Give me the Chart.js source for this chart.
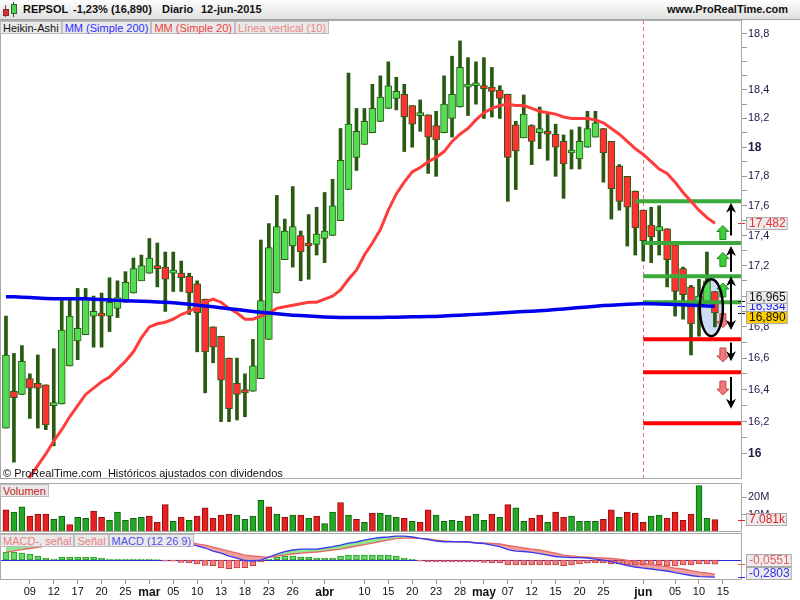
<!DOCTYPE html>
<html lang="es">
<head>
<meta charset="utf-8">
<title>REPSOL</title>
<script src="https://cdn.jsdelivr.net/npm/chart.js@4.4.1/dist/chart.umd.min.js"></script>
<style>
  body { margin: 0; background: #fff; font-family: "Liberation Sans", Arial, sans-serif; }
  #page { position: relative; width: 800px; height: 600px; overflow: hidden; }
  canvas { position: absolute; left: 0; }
  #head { position: absolute; left: 0; top: 0; width: 800px; height: 20px; box-sizing: border-box; background: linear-gradient(#fdfdfd, #e0e0e0); border-bottom: 1px solid #a6a6a6; }
  #head span { position: absolute; top: 3px; font-size: 11px; font-weight: bold; color: #111; white-space: nowrap; }
  #head i { position: absolute; display: block; box-sizing: border-box; }
  .legend { position: absolute; left: 0; display: flex; z-index: 2; }
  .legend span { font-size: 11px; line-height: 11px; height: 13px; box-sizing: border-box; padding: 1px 2px 0 2px; background: #e9e9e9; border: 1px solid #bcbcbc; white-space: nowrap; }
  #copy { position: absolute; left: 3px; top: 467px; font-size: 11px; color: #111; z-index: 2; white-space: pre; }
</style>
</head>
<body>
<div id="page">
  <div id="head">
    <i style="left:5px;top:5px;width:1px;height:12px;background:#553"></i>
    <i style="left:3px;top:9px;width:6px;height:7px;background:#e03030;border:1px solid #733"></i>
    <i style="left:13px;top:2px;width:1px;height:15px;background:#353"></i>
    <i style="left:11px;top:4px;width:6px;height:10px;background:#4cd44c;border:1px solid #363"></i>
    <span style="left:23px">REPSOL</span>
    <span style="left:73px">-1,23% (16,890)</span>
    <span style="left:162px">Diario</span>
    <span style="left:201px">12-jun-2015</span>
    <span style="left:667px">www.ProRealTime.com</span>
  </div>
  <canvas id="mainChart" width="800" height="460" style="top:20px"></canvas>
  <canvas id="volChart" width="800" height="51" style="top:481px"></canvas>
  <canvas id="macdChart" width="800" height="67" style="top:533px"></canvas>
  <div class="legend" style="top:21px">
    <span style="color:#111">Heikin-Ashi</span>
    <span style="color:#3030ff">MM (Simple 200)</span>
    <span style="color:#ee4040">MM (Simple 20)</span>
    <span style="color:#ec8484">Línea vertical (10)</span>
  </div>
  <div id="copy">© ProRealTime.com  Históricos ajustados con dividendos</div>
  <div class="legend" style="top:484px"><span style="color:#cc2020">Volumen</span></div>
  <div class="legend" style="top:534px">
    <span style="color:#ee7f7f">MACD-, señal</span>
    <span style="color:#ee7f7f">Señal</span>
    <span style="color:#5050ee">MACD (12 26 9)</span>
  </div>
</div>
<script>
// trading days, 4-feb-2015 .. 12-jun-2015
const days = [
  '04-feb','05-feb','06-feb','09-feb','10-feb','11-feb','12-feb','13-feb','16-feb','17-feb',
  '18-feb','19-feb','20-feb','23-feb','24-feb','25-feb','26-feb','27-feb','02-mar','03-mar',
  '04-mar','05-mar','06-mar','09-mar','10-mar','11-mar','12-mar','13-mar','16-mar','17-mar',
  '18-mar','19-mar','20-mar','23-mar','24-mar','25-mar','26-mar','27-mar','30-mar','31-mar',
  '01-abr','02-abr','07-abr','08-abr','09-abr','10-abr','13-abr','14-abr','15-abr','16-abr',
  '17-abr','20-abr','21-abr','22-abr','23-abr','24-abr','27-abr','28-abr','29-abr','30-abr',
  '04-may','05-may','06-may','07-may','08-may','11-may','12-may','13-may','14-may','15-may',
  '18-may','19-may','20-may','21-may','22-may','25-may','26-may','27-may','28-may','29-may',
  '01-jun','02-jun','03-jun','04-jun','05-jun','08-jun','09-jun','10-jun','11-jun','12-jun'
];

// Heikin-Ashi candles
const open = [
  16.16, 16.39, 16.37, 16.47, 16.44, 16.43, 16.30, 16.31, 16.55, 16.71,
  16.75, 16.87, 16.88, 16.87, 16.92, 16.96, 17.02, 17.10, 17.15, 17.19,
  17.19, 17.15, 17.15, 17.13, 17.08, 16.98, 16.80, 16.74, 16.60, 16.44,
  16.40, 16.39, 16.47, 16.72, 17.02, 17.24, 17.33, 17.40, 17.345, 17.34,
  17.38, 17.40, 17.50, 17.71, 17.93, 18.02, 18.10, 18.18, 18.27, 18.34,
  18.37, 18.29, 18.22, 18.225, 18.15, 18.10, 18.20, 18.28, 18.42, 18.43,
  18.43, 18.42, 18.40, 18.37, 18.155, 18.065, 18.15, 18.10, 18.11, 18.09,
  18.04, 17.96, 17.92, 18.00, 18.07, 18.13, 18.04, 17.87, 17.80, 17.70,
  17.57, 17.47, 17.43, 17.445, 17.34, 17.18, 17.06, 16.94, 16.96, 17.03
];
const high = [
  16.87, 16.63, 16.68, 16.50, 16.62, 16.43, 16.66, 16.98, 16.98, 17.05,
  17.05, 17.00, 17.02, 17.12, 17.10, 17.16, 17.25, 17.27, 17.38, 17.35,
  17.29, 17.29, 17.23, 17.15, 17.10, 16.98, 16.80, 16.74, 16.60, 16.60,
  16.50, 16.72, 17.37, 17.48, 17.67, 17.51, 17.73, 17.43, 17.54, 17.59,
  17.69, 17.78, 18.13, 18.52, 18.27, 18.27, 18.44, 18.50, 18.60, 18.49,
  18.44, 18.29, 18.33, 18.225, 18.25, 18.50, 18.64, 18.75, 18.63, 18.60,
  18.63, 18.56, 18.43, 18.37, 18.18, 18.365, 18.155, 18.28, 18.24, 18.16,
  18.085, 18.12, 18.14, 18.25, 18.25, 18.13, 18.04, 17.88, 17.80, 17.70,
  17.57, 17.59, 17.60, 17.445, 17.34, 17.19, 17.07, 17.11, 17.29, 17.03
];
const low = [
  16.16, 15.95, 16.37, 16.22, 16.16, 16.15, 16.05, 16.31, 16.55, 16.59,
  16.75, 16.67, 16.67, 16.77, 16.86, 16.96, 17.02, 17.10, 17.15, 17.06,
  16.90, 17.03, 17.03, 16.88, 16.64, 16.38, 16.57, 16.20, 16.20, 16.21,
  16.23, 16.39, 16.47, 16.72, 17.02, 17.24, 17.19, 17.10, 17.11, 17.27,
  17.22, 17.40, 17.50, 17.71, 17.84, 18.02, 18.10, 18.18, 18.27, 18.26,
  17.97, 18.00, 18.11, 17.82, 17.80, 18.10, 18.07, 18.28, 18.22, 18.30,
  18.20, 18.21, 18.20, 17.63, 17.71, 18.065, 17.88, 17.99, 17.91, 17.80,
  17.65, 17.85, 17.85, 18.00, 18.07, 17.76, 17.51, 17.57, 17.33, 17.27,
  17.23, 17.22, 17.27, 17.06, 16.87, 16.85, 16.62, 16.74, 16.96, 16.80
];
const close = [
  16.62, 16.35, 16.58, 16.41, 16.41, 16.18, 16.31, 16.78, 16.87, 16.79,
  16.98, 16.90, 16.87, 16.96, 16.99, 17.09, 17.18, 17.20, 17.25, 17.18,
  17.11, 17.155, 17.12, 17.02, 16.89, 16.64, 16.67, 16.46, 16.28, 16.37,
  16.38, 16.55, 16.97, 17.32, 17.46, 17.43, 17.46, 17.29, 17.33, 17.41,
  17.43, 17.60, 17.91, 18.16, 18.11, 18.18, 18.27, 18.35, 18.43, 18.39,
  18.21, 18.16, 18.225, 18.07, 18.05, 18.30, 18.37, 18.56, 18.44, 18.435,
  18.41, 18.39, 18.34, 17.93, 17.975, 18.23, 18.04, 18.13, 18.09, 18.00,
  17.885, 17.975, 18.04, 18.13, 18.17, 17.96, 17.715, 17.63, 17.59, 17.45,
  17.365, 17.39, 17.46, 17.24, 17.03, 17.01, 16.82, 17.00, 17.10, 16.89
];

// moving averages
const ma200 = [
  16.995, 16.995, 16.993, 16.990, 16.988, 16.985, 16.983, 16.983, 16.983, 16.983,
  16.982, 16.980, 16.978, 16.975, 16.972, 16.970, 16.968, 16.966, 16.964, 16.962,
  16.959, 16.956, 16.952, 16.947, 16.941, 16.936, 16.930, 16.924, 16.918, 16.912,
  16.906, 16.900, 16.895, 16.890, 16.885, 16.880, 16.876, 16.873, 16.870, 16.867,
  16.864, 16.862, 16.861, 16.860, 16.860, 16.860, 16.860, 16.861, 16.862, 16.863,
  16.864, 16.865, 16.866, 16.867, 16.868, 16.870, 16.873, 16.876, 16.878, 16.881,
  16.884, 16.887, 16.890, 16.893, 16.896, 16.899, 16.902, 16.905, 16.908, 16.912,
  16.916, 16.920, 16.925, 16.929, 16.934, 16.938, 16.941, 16.944, 16.947, 16.949,
  16.951, 16.950, 16.949, 16.947, 16.945, 16.943, 16.940, 16.938, 16.936, 16.934
];
const ma20 = [
  15.64, 15.71, 15.78, 15.86, 15.93, 16.00, 16.08, 16.15, 16.23, 16.30,
  16.37, 16.41, 16.45, 16.48, 16.53, 16.58, 16.64, 16.73, 16.80, 16.82,
  16.83, 16.85, 16.88, 16.90, 16.93, 16.96, 16.98, 16.96, 16.92, 16.89,
  16.85, 16.85, 16.87, 16.89, 16.92, 16.93, 16.94, 16.95, 16.96, 16.96,
  16.98, 17.00, 17.04, 17.11, 17.17, 17.27, 17.35, 17.44, 17.57, 17.68,
  17.76, 17.83, 17.86, 17.90, 17.93, 17.97, 18.04, 18.09, 18.13, 18.19,
  18.24, 18.27, 18.29, 18.30, 18.29, 18.29, 18.27, 18.25, 18.24, 18.23,
  18.21, 18.20, 18.20, 18.20, 18.19, 18.17, 18.13, 18.09, 18.04, 17.99,
  17.95, 17.90, 17.85, 17.82, 17.76, 17.69, 17.63, 17.57, 17.52, 17.482
];

// volume in millions, 1 = up day
const volume = [
  12.7, 11.5, 14.5, 9.1, 10.3, 10.3, 7.3, 9.1, 4.2, 8.5,
  7.9, 12.1, 8.5, 6.7, 11.5, 6.7, 7.9, 8.5, 9.1, 5.5,
  15.8, 6.1, 8.5, 6.7, 9.1, 13.9, 7.9, 9.7, 10.3, 9.7,
  7.3, 9.1, 18.2, 14.5, 10.3, 8.5, 9.7, 9.7, 7.9, 9.1,
  4.8, 11.5, 17.0, 9.7, 7.3, 5.5, 10.9, 10.9, 9.7, 8.5,
  7.9, 6.1, 5.5, 12.7, 9.7, 6.1, 6.7, 6.1, 9.1, 10.3,
  6.7, 10.3, 8.5, 15.8, 13.9, 6.1, 7.9, 9.7, 5.5, 11.5,
  8.5, 9.1, 6.1, 6.1, 6.1, 7.3, 12.7, 8.5, 11.5, 10.9,
  5.5, 9.1, 9.7, 7.9, 11.5, 6.7, 10.3, 26.7, 7.9, 7.081
];
const volUp = [
  0, 1, 1, 0, 0, 0, 1, 1, 0, 1,
  1, 0, 0, 1, 1, 1, 1, 1, 0, 0,
  0, 1, 0, 1, 0, 0, 0, 0, 0, 1,
  1, 1, 1, 0, 1, 0, 1, 0, 1, 0,
  1, 1, 0, 1, 0, 1, 0, 1, 1, 1,
  0, 1, 0, 0, 1, 1, 1, 1, 0, 1,
  1, 0, 1, 0, 1, 1, 0, 0, 1, 0,
  0, 1, 1, 1, 1, 0, 0, 1, 0, 0,
  0, 1, 1, 0, 0, 0, 0, 1, 1, 0
];

// MACD (12 26 9)
const macd = [
  0.247, 0.265, 0.285, 0.300, 0.315, 0.329, 0.340, 0.350, 0.360, 0.370,
  0.379, 0.382, 0.384, 0.384, 0.382, 0.379, 0.372, 0.362, 0.352, 0.346,
  0.330, 0.313, 0.297, 0.275, 0.231, 0.198, 0.148, 0.115, 0.066, 0.033,
  -0.008, -0.016, 0.000, 0.049, 0.099, 0.140, 0.165, 0.181, 0.181, 0.181,
  0.198, 0.219, 0.247, 0.280, 0.297, 0.329, 0.354, 0.371, 0.379, 0.395,
  0.395, 0.379, 0.357, 0.338, 0.313, 0.301, 0.301, 0.301, 0.297, 0.280,
  0.272, 0.247, 0.219, 0.173, 0.148, 0.140, 0.127, 0.107, 0.082, 0.058,
  0.049, 0.041, 0.038, 0.033, 0.016, 0.000, -0.025, -0.058, -0.091, -0.115,
  -0.132, -0.148, -0.165, -0.181, -0.206, -0.231, -0.255, -0.275, -0.278, -0.2803
];
const signal = [
  0.130, 0.150, 0.170, 0.190, 0.210, 0.230, 0.250, 0.265, 0.280, 0.295,
  0.310, 0.320, 0.330, 0.340, 0.345, 0.350, 0.352, 0.352, 0.350, 0.343,
  0.340, 0.330, 0.315, 0.297, 0.264, 0.247, 0.214, 0.181, 0.148, 0.115,
  0.082, 0.066, 0.055, 0.045, 0.066, 0.082, 0.099, 0.115, 0.124, 0.132,
  0.148, 0.165, 0.181, 0.206, 0.231, 0.255, 0.280, 0.305, 0.329, 0.354,
  0.362, 0.362, 0.357, 0.346, 0.329, 0.313, 0.305, 0.301, 0.297, 0.288,
  0.280, 0.275, 0.264, 0.239, 0.219, 0.198, 0.181, 0.165, 0.140, 0.115,
  0.082, 0.066, 0.055, 0.049, 0.041, 0.033, 0.028, 0.016, -0.008, -0.033,
  -0.054, -0.074, -0.091, -0.110, -0.132, -0.148, -0.173, -0.198, -0.214, -0.236
];
const histo = [
  0.107, 0.107, 0.093, 0.080, 0.053, 0.027, 0.013, 0.040, 0.040, 0.040,
  0.040, 0.040, 0.027, 0.013, 0.013, 0.013, 0.013, 0.013, 0.013, 0.004,
  -0.017, -0.017, -0.031, -0.040, -0.053, -0.071, -0.076, -0.107, -0.116, -0.107,
  -0.103, -0.076, -0.027, 0.013, 0.040, 0.053, 0.053, 0.040, 0.040, 0.027,
  0.027, 0.027, 0.053, 0.067, 0.067, 0.067, 0.067, 0.067, 0.067, 0.053,
  0.027, 0.013, -0.017, -0.027, -0.027, -0.027, -0.027, -0.027, -0.027, -0.027,
  -0.031, -0.040, -0.040, -0.067, -0.067, -0.067, -0.067, -0.067, -0.067, -0.067,
  -0.076, -0.067, -0.053, -0.044, -0.040, -0.040, -0.053, -0.053, -0.067, -0.067,
  -0.067, -0.067, -0.067, -0.080, -0.080, -0.067, -0.067, -0.053, -0.053, -0.0551
];

// drawn levels and marks (value axis) from the vertical line on
const splitAt = 80;
const targets = [17.63, 17.35, 17.13, 16.96];
const targetFrom = [79, 80, 80, 80];
const stops = [16.72, 16.51, 16.19];
const arrowAt = 91;
const arrows = [[17.40, 17.62], [17.16, 17.33], [16.96, 17.13], [16.96, 16.78], [16.70, 16.58], [16.48, 16.28]];
const markAt = 90;
const upMarks = [17.42, 17.24, 17.04];
const downMarks = [16.84, 16.62, 16.41];
const circleX = [87.1, 90.0];
const circleY = [16.74, 17.11];
const levelTag = 16.965;

// axes
const yTicks = [];
for (let i = 0; i <= 28; i++) yTicks.push((160 + i) / 10);
const yLabelled = [16, 16.2, 16.4, 16.6, 16.8, 17.2, 17.4, 17.6, 17.8, 18, 18.2, 18.4, 18.8];
const tickDays = ['09-feb', '12-feb', '17-feb', '20-feb', '25-feb', '02-mar', '05-mar', '10-mar', '13-mar', '18-mar',
  '23-mar', '26-mar', '01-abr', '10-abr', '15-abr', '20-abr', '23-abr', '28-abr', '04-may', '07-may',
  '12-may', '15-may', '20-may', '25-may', '01-jun', '05-jun', '10-jun', '15-jun'];
const tickLabels = ['09', '12', '17', '20', '25', 'mar', '05', '10', '13', '18', '23', '26', 'abr', '10', '15', '20', '23', '28', 'may', '07', '12', '15', '20', '25', 'jun', '05', '10', '15'];
const months = ['mar', 'abr', 'may', 'jun'];
// 15-jun is the next session after the last one
const tickAt = tickDays.map(d => days.includes(d) ? days.indexOf(d) : days.length);

const xMin = -0.75;
const xMax = 92.4;
const FONT = '"Liberation Sans", Arial, sans-serif';
const WICK = '#2a5a12';

Chart.defaults.font.family = FONT;
Chart.defaults.font.size = 11;
Chart.defaults.color = '#222';

const fmt = (v, d) => v.toFixed(d).replace('.', ',');
const pts = (arr) => arr.map((v, i) => ({ x: i, y: v }));

function xScale(show) {
  return {
    type: 'linear', min: xMin, max: xMax, bounds: 'data', offset: false, display: show,
    grid: { display: false, offset: false }, border: { display: false }
  };
}

function rightAxis(extra) {
  return Object.assign({
    position: 'right', bounds: 'data',
    border: { display: false },
    afterFit: (s) => { s.width = 58; s.paddingTop = 0; s.paddingBottom = 0; }
  }, extra);
}

const frame = {
  id: 'frame',
  afterDraw(chart) {
    const { ctx, chartArea: a } = chart;
    ctx.save();
    ctx.strokeStyle = '#a8a8a8';
    ctx.lineWidth = 1;
    ctx.strokeRect(a.left + 0.5, a.top + 0.5, a.right - a.left - 1, a.bottom - a.top - 1);
    ctx.restore();
  }
};

function tag(ctx, text, y, color, bg, shift) {
  ctx.save();
  ctx.font = '12px ' + FONT;
  const w = ctx.measureText(text).width + 5;
  const x = 746;
  const top = Math.round(y + shift - 6.5);
  ctx.fillStyle = color;
  ctx.fillRect(738, Math.round(y), 7, 1);
  ctx.fillStyle = bg;
  ctx.fillRect(x, top, w, 13);
  ctx.strokeStyle = '#aaaaaa';
  ctx.strokeRect(x + 0.5, top + 0.5, w - 1, 12);
  ctx.fillStyle = color;
  ctx.textBaseline = 'middle';
  ctx.fillText(text, x + 3, top + 7);
  ctx.restore();
}

function blackArrow(ctx, px, y0, y1) {
  const dir = y1 < y0 ? -1 : 1;
  ctx.beginPath();
  ctx.moveTo(px, y0);
  ctx.lineTo(px, y1 - dir * 6);
  ctx.stroke();
  ctx.beginPath();
  ctx.moveTo(px, y1);
  ctx.lineTo(px - 5, y1 - dir * 10);
  ctx.lineTo(px, y1 - dir * 7);
  ctx.lineTo(px + 5, y1 - dir * 10);
  ctx.closePath();
  ctx.fill();
}

function fatArrow(ctx, cx, cy, up, fill, edge) {
  const s = up ? -1 : 1;
  ctx.beginPath();
  ctx.moveTo(cx, cy + s * 7);
  ctx.lineTo(cx + 6, cy + s * 1);
  ctx.lineTo(cx + 3, cy + s * 1);
  ctx.lineTo(cx + 3, cy - s * 7);
  ctx.lineTo(cx - 3, cy - s * 7);
  ctx.lineTo(cx - 3, cy + s * 1);
  ctx.lineTo(cx - 6, cy + s * 1);
  ctx.closePath();
  ctx.fillStyle = fill;
  ctx.strokeStyle = edge;
  ctx.lineWidth = 1;
  ctx.fill();
  ctx.stroke();
}

const mainMarks = {
  id: 'mainMarks',
  beforeDatasetsDraw(chart) {
    const { ctx, chartArea: a, scales: { x, y } } = chart;
    ctx.save();
    const vx = Math.round(x.getPixelForValue(splitAt)) + 0.5;
    ctx.strokeStyle = '#d77474';
    ctx.lineWidth = 1;
    ctx.setLineDash([4, 3]);
    ctx.beginPath();
    ctx.moveTo(vx, a.top);
    ctx.lineTo(vx, a.bottom);
    ctx.stroke();
    ctx.setLineDash([]);
    const x0 = x.getPixelForValue(circleX[0]), x1 = x.getPixelForValue(circleX[1]);
    const y0 = y.getPixelForValue(circleY[1]), y1 = y.getPixelForValue(circleY[0]);
    ctx.fillStyle = '#cddcf6';
    ctx.beginPath();
    ctx.ellipse((x0 + x1) / 2, (y0 + y1) / 2, (x1 - x0) / 2, (y1 - y0) / 2, 0, 0, Math.PI * 2);
    ctx.fill();
    ctx.restore();
  },
  afterDatasetsDraw(chart) {
    const { ctx, scales: { x, y } } = chart;
    ctx.save();
    const mx = x.getPixelForValue(markAt);
    upMarks.forEach(v => fatArrow(ctx, mx, y.getPixelForValue(v), true, '#3ccc3c', '#1f8a1f'));
    downMarks.forEach(v => fatArrow(ctx, mx, y.getPixelForValue(v), false, '#ee7a7a', '#c04848'));
    const x0 = x.getPixelForValue(circleX[0]), x1 = x.getPixelForValue(circleX[1]);
    const y0 = y.getPixelForValue(circleY[1]), y1 = y.getPixelForValue(circleY[0]);
    ctx.strokeStyle = '#000';
    ctx.lineWidth = 2.5;
    ctx.beginPath();
    ctx.ellipse((x0 + x1) / 2, (y0 + y1) / 2, (x1 - x0) / 2, (y1 - y0) / 2, 0, 0, Math.PI * 2);
    ctx.stroke();
    const ax = Math.round(x.getPixelForValue(arrowAt));
    ctx.strokeStyle = '#000';
    ctx.fillStyle = '#000';
    ctx.lineWidth = 2;
    arrows.forEach(([a, b]) => blackArrow(ctx, ax, y.getPixelForValue(a), y.getPixelForValue(b)));
    ctx.restore();
  },
  afterDraw(chart) {
    const { ctx, scales: { y } } = chart;
    const last = close.length - 1;
    tag(ctx, fmt(ma20[last], 3), y.getPixelForValue(ma20[last]), '#f03030', '#ececec', 0);
    tag(ctx, fmt(ma200[last], 3), y.getPixelForValue(ma200[last]), '#2020ff', '#ececec', 0);
    tag(ctx, fmt(levelTag, 3), y.getPixelForValue(levelTag), '#111', '#ececec', -4);
    tag(ctx, fmt(16.890, 3), y.getPixelForValue(16.890), '#111', '#ffcc00', 5);
  }
};

const levelSets = targets.map((v, i) => ({
  type: 'line', data: [{ x: targetFrom[i], y: v }, { x: xMax + 1, y: v }],
  borderColor: '#3aaa3a', borderWidth: 4, pointRadius: 0, order: 1
})).concat(stops.map(v => ({
  type: 'line', data: [{ x: splitAt, y: v }, { x: xMax + 1, y: v }],
  borderColor: '#ff0000', borderWidth: 4, pointRadius: 0, order: 1
})));

new Chart(document.getElementById('mainChart'), {
  type: 'bar',
  data: {
    datasets: [
      { type: 'line', label: 'MM (Simple 200)', data: pts(ma200), borderColor: '#0000ee', borderWidth: 3.5, pointRadius: 0, order: 0 },
      { type: 'line', label: 'MM (Simple 20)', data: pts(ma20), borderColor: '#ff3c3c', borderWidth: 3, pointRadius: 0, order: 0 },
      ...levelSets,
      {
        label: 'wick', data: low.map((v, i) => ({ x: i, y: [v, high[i]] })),
        backgroundColor: WICK, barThickness: 3, grouped: false, order: 3
      },
      {
        label: 'body', data: open.map((v, i) => ({ x: i, y: [v, close[i]] })),
        backgroundColor: open.map((v, i) => close[i] >= v ? '#54dc54' : '#ff3131'),
        borderColor: WICK, borderWidth: 1, borderSkipped: false,
        barThickness: 7, minBarLength: 3, grouped: false, order: 2
      }
    ]
  },
  options: {
    responsive: false, animation: false, devicePixelRatio: 1,
    layout: { padding: { top: 0, bottom: 1, left: 0, right: 0 } },
    plugins: { legend: { display: false }, tooltip: { enabled: false } },
    scales: {
      x: xScale(false),
      y: rightAxis({
        type: 'logarithmic', min: 15.847, max: 18.901,
        afterBuildTicks: (s) => { s.ticks = yTicks.map(v => ({ value: v })); },
        grid: { display: true, drawOnChartArea: false, tickLength: 5, color: '#9a9a9a' },
        ticks: {
          autoSkip: false, padding: 1, color: '#241848',
          callback: (v) => yLabelled.includes(v) ? (Number.isInteger(v) ? String(v) : fmt(v, 1)) : '',
          font: (c) => Number.isInteger(c.tick && c.tick.value) ? { size: 12, weight: 'bold' } : { size: 11 }
        }
      })
    }
  },
  plugins: [mainMarks, frame]
});

new Chart(document.getElementById('volChart'), {
  type: 'bar',
  data: {
    datasets: [{
      label: 'Volumen', data: pts(volume),
      backgroundColor: volUp.map(u => u ? '#22a822' : '#e82020'),
      borderColor: volUp.map(u => u ? '#126012' : '#8c1010'),
      borderWidth: 1, borderSkipped: false, barThickness: 6
    }]
  },
  options: {
    responsive: false, animation: false, devicePixelRatio: 1,
    layout: { padding: { top: 2, bottom: 0, left: 0, right: 0 } },
    plugins: { legend: { display: false }, tooltip: { enabled: false } },
    scales: {
      x: xScale(false),
      y: rightAxis({
        min: 0, max: 28.2,
        afterBuildTicks: (s) => { s.ticks = [{ value: 10 }, { value: 20 }]; },
        grid: { display: true, drawOnChartArea: false, tickLength: 5, color: '#9a9a9a' },
        ticks: { padding: 1, color: '#241848', callback: (v) => v + 'M' }
      })
    }
  },
  plugins: [frame, {
    id: 'volTag',
    afterDraw(chart) {
      const last = volume.length - 1;
      tag(chart.ctx, volume[last].toFixed(3) + 'k', chart.scales.y.getPixelForValue(volume[last]), '#e02020', '#ececec', 0);
    }
  }]
});

new Chart(document.getElementById('macdChart'), {
  type: 'bar',
  data: {
    datasets: [
      {
        type: 'line', label: 'MACD', data: pts(macd), yAxisID: 'yl',
        borderColor: '#3838f0', borderWidth: 1.3, pointRadius: 0, order: 0,
        fill: { target: 1, above: 'rgba(130,228,130,0.9)', below: 'rgba(236,150,150,0.9)' }
      },
      {
        type: 'line', label: 'Señal', data: pts(signal), yAxisID: 'yl',
        borderColor: '#e86868', borderWidth: 1.3, pointRadius: 0, order: 0
      },
      {
        label: 'MACD-, señal', data: pts(histo), yAxisID: 'yh',
        backgroundColor: histo.map(v => v >= 0 ? '#62dc62' : '#ee8282'),
        borderColor: histo.map(v => v >= 0 ? '#2a962a' : '#c83c3c'),
        borderWidth: 1, borderSkipped: false, barThickness: 6, order: 2
      }
    ]
  },
  options: {
    responsive: false, animation: false, devicePixelRatio: 1,
    layout: { padding: 0 },
    plugins: { legend: { display: false }, tooltip: { enabled: false }, filler: { drawTime: 'beforeDatasetsDraw' } },
    scales: {
      x: {
        type: 'linear', min: xMin, max: xMax, bounds: 'data', offset: false,
        afterBuildTicks: (s) => { s.ticks = tickAt.map(v => ({ value: v })); },
        afterFit: (s) => { s.height = 20; s.paddingLeft = 0; s.paddingRight = 0; },
        grid: { display: true, offset: false, drawOnChartArea: false, tickLength: 4, color: '#9a9a9a' },
        border: { display: false },
        ticks: {
          autoSkip: false, maxRotation: 0, padding: 1, color: '#111',
          callback: (v, i) => tickLabels[i],
          font: (c) => months.includes(tickLabels[c.index]) ? { size: 12, weight: 'bold' } : { size: 11 }
        }
      },
      yl: rightAxis({ min: -0.329, max: 0.445, grid: { display: false }, ticks: { display: false } }),
      yh: { display: false, min: -0.267, max: 0.36 }
    }
  },
  plugins: [{
    id: 'zeroLine',
    beforeDatasetsDraw(chart) {
      const { ctx, chartArea: a, scales: { yh } } = chart;
      const zy = Math.round(yh.getPixelForValue(0)) + 0.5;
      ctx.save();
      ctx.strokeStyle = '#2a2ad8';
      ctx.lineWidth = 1;
      ctx.beginPath();
      ctx.moveTo(a.left, zy);
      ctx.lineTo(a.right, zy);
      ctx.stroke();
      ctx.restore();
    }
  }, frame, {
    id: 'macdTags',
    afterDraw(chart) {
      const last = macd.length - 1;
      tag(chart.ctx, fmt(histo[last], 4), chart.scales.yh.getPixelForValue(histo[last]), '#e06464', '#ececec', -4);
      tag(chart.ctx, fmt(macd[last], 4), chart.scales.yl.getPixelForValue(macd[last]), '#3030f0', '#ececec', -4);
    }
  }]
});
</script>
</body>
</html>
